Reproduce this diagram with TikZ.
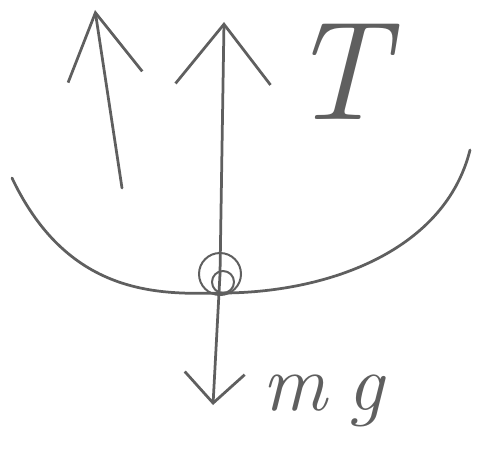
\documentclass[tikz,border=0pt]{standalone}
\usepackage{xcolor}
\definecolor{pencil}{RGB}{95, 95, 95}
\usetikzlibrary{arrows.meta}

\begin{document}
\begin{tikzpicture}[
  x=0.2mm, y=-0.2mm,
  pen/.style={draw=pencil, line width=0.55mm, line cap=round, line join=round},
  force/.style={pen, -{Straight Barb[length=#1]}},
  label/.style={text=pencil, inner sep=0pt, font=\itshape}
]
\useasboundingbox (0,0) rectangle (479,451);

% the bob and its path
\draw[pen] (12,178) .. controls (70,300) and (165,294) .. (225,293)
  .. controls (330,292) and (445,250) .. (470,150);
\node[pen, circle, minimum size=8.4mm, inner sep=0pt, line width=0.4mm] (bob) at (220,274) {};
\draw[pen, line width=0.4mm] (223,282) circle[radius=11];

% forces
\coordinate (lfoot) at (122,188);
\coordinate (ltip) at (95,10);
\coordinate (utip) at (224,22);
\coordinate (dtip) at (213,405);
\draw[force={13mm, width=15mm}] (lfoot) -- (ltip);
\draw[force={12mm, width=19mm}] (bob.center) -- (utip);
\draw[force={6mm, width=12mm}] (bob.center) -- (dtip);

% labels
\node[label, font=\itshape\fontsize{80}{80}\selectfont] (tens) at (338,72) {T};
\node[label, font=\itshape\fontsize{46}{46}\selectfont, anchor=base west] (wt) at (262,410) {m\hspace{0.25em}g};
\end{tikzpicture}
\end{document}
